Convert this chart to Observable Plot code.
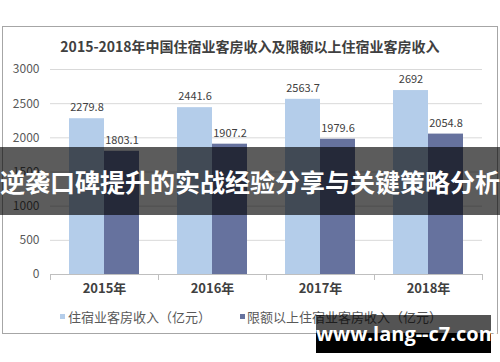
<!DOCTYPE html>
<html><head><meta charset="utf-8">
<script src="https://cdn.jsdelivr.net/npm/d3@7"></script>
<script src="https://cdn.jsdelivr.net/npm/@observablehq/plot@0.6"></script>
<style>
body{margin:0;background:#fff;font-family:"Noto Sans CJK SC","Noto Sans",sans-serif;}
#wrap{position:relative;width:500px;height:362px;overflow:hidden;background:#fff;}
#frame{position:absolute;left:2px;top:26px;width:496px;height:308px;border:1px solid #a6a6a6;box-sizing:border-box;}
#title{position:absolute;left:0;top:36px;width:500px;text-align:center;font-size:14px;line-height:20px;font-weight:bold;color:#404040;}
#chart{position:absolute;left:0;top:0;}
.leg{position:absolute;top:308px;font-size:13px;line-height:18px;color:#595959;white-space:nowrap;}
.sw{position:absolute;width:5px;height:5px;top:314px;}
#band{position:absolute;left:0;top:147px;width:500px;height:68px;background:rgba(0,0,0,0.64);color:#fff;font-weight:bold;font-size:25px;line-height:68px;text-align:center;white-space:nowrap;}
#wm{position:absolute;left:316px;top:315px;width:175px;height:38px;background:linear-gradient(to bottom,rgba(0,0,0,0.67) 0,rgba(0,0,0,0.67) 18px,#000 18px,#000 100%);color:#fff;font-family:"Open Sans","DejaVu Sans",sans-serif;font-weight:bold;font-size:20px;line-height:38px;text-align:center;white-space:nowrap;}
</style></head>
<body>
<div id="wrap">
  <div id="frame"></div>
  <div id="title"></div>
  <div id="chart"></div>
  <div id="legend"></div>
  <div id="band"></div>
  <div id="wm"></div>
</div>
<script>
const titleText = "2015-2018年中国住宿业客房收入及限额以上住宿业客房收入";
const years = ["2015年","2016年","2017年","2018年"];
const seriesNames = ["住宿业客房收入（亿元）","限额以上住宿业客房收入（亿元）"];
const roomRevenue = [2279.8, 2441.6, 2563.7, 2692];
const aboveQuotaRevenue = [1803.1, 1907.2, 1979.6, 2054.8];
const yTicks = [0, 500, 1000, 1500, 2000, 2500, 3000];
const colors = ["#b4cdea", "#66729e"];
const overlayText = "逆袭口碑提升的实战经验分享与关键策略分析";
const watermarkText = "www.lang--c7.com";

const table = [];
years.forEach((yr, i) => {
  table.push({year: yr, series: seriesNames[0], value: roomRevenue[i]});
  table.push({year: yr, series: seriesNames[1], value: aboveQuotaRevenue[i]});
});

document.getElementById("title").textContent = titleText;
document.getElementById("band").textContent = overlayText;
document.getElementById("wm").textContent = watermarkText;

const axisStroke = "#bfbfbf";
const chart = Plot.plot({
  width: 500, height: 300,
  marginTop: 69, marginBottom: 26, marginLeft: 48, marginRight: 17,
  style: {fontFamily: '"Noto Sans CJK SC","Noto Sans",sans-serif', background: "transparent"},
  fx: {domain: years, padding: 0, label: null},
  x: {domain: seriesNames, paddingInner: 0, paddingOuter: 0.53, axis: null},
  y: {domain: [0, 3000], axis: null},
  color: {domain: seriesNames, range: colors},
  marks: [
    Plot.gridY(yTicks.filter(d => d > 0), {stroke: "#d9d9d9", strokeOpacity: 1}),
    Plot.axisY(yTicks, {tickSize: 0, tickPadding: 11, fontSize: 12, fill: "#595959", label: null, tickFormat: d => String(d)}),
    Plot.barY(table, {fx: "year", x: "series", y: "value", fill: "series"}),
    Plot.text(table, {fx: "year", x: "series", y: "value", text: d => String(d.value), dy: -11, fontSize: 11, fill: "#404040"}),
    Plot.ruleY([0], {stroke: axisStroke}),
    Plot.frame({anchor: "left", insetTop: 205, insetBottom: -5, stroke: axisStroke}),
    Plot.frame({anchor: "right", insetTop: 205, insetBottom: -5, stroke: axisStroke}),
    Plot.axisFx({anchor: "bottom", tickSize: 0, tickPadding: 9, fontSize: 13, fontWeight: "bold", fill: "#404040", label: null})
  ]
});
document.getElementById("chart").appendChild(chart);

const legend = document.getElementById("legend");
const legPos = [[60, 68], [240, 247]];
seriesNames.forEach((name, i) => {
  const sw = document.createElement("div");
  sw.className = "sw";
  sw.style.left = legPos[i][0] + "px";
  sw.style.background = colors[i];
  legend.appendChild(sw);
  const t = document.createElement("div");
  t.className = "leg";
  t.style.left = legPos[i][1] + "px";
  t.textContent = name;
  legend.appendChild(t);
});
</script>
</body></html>
